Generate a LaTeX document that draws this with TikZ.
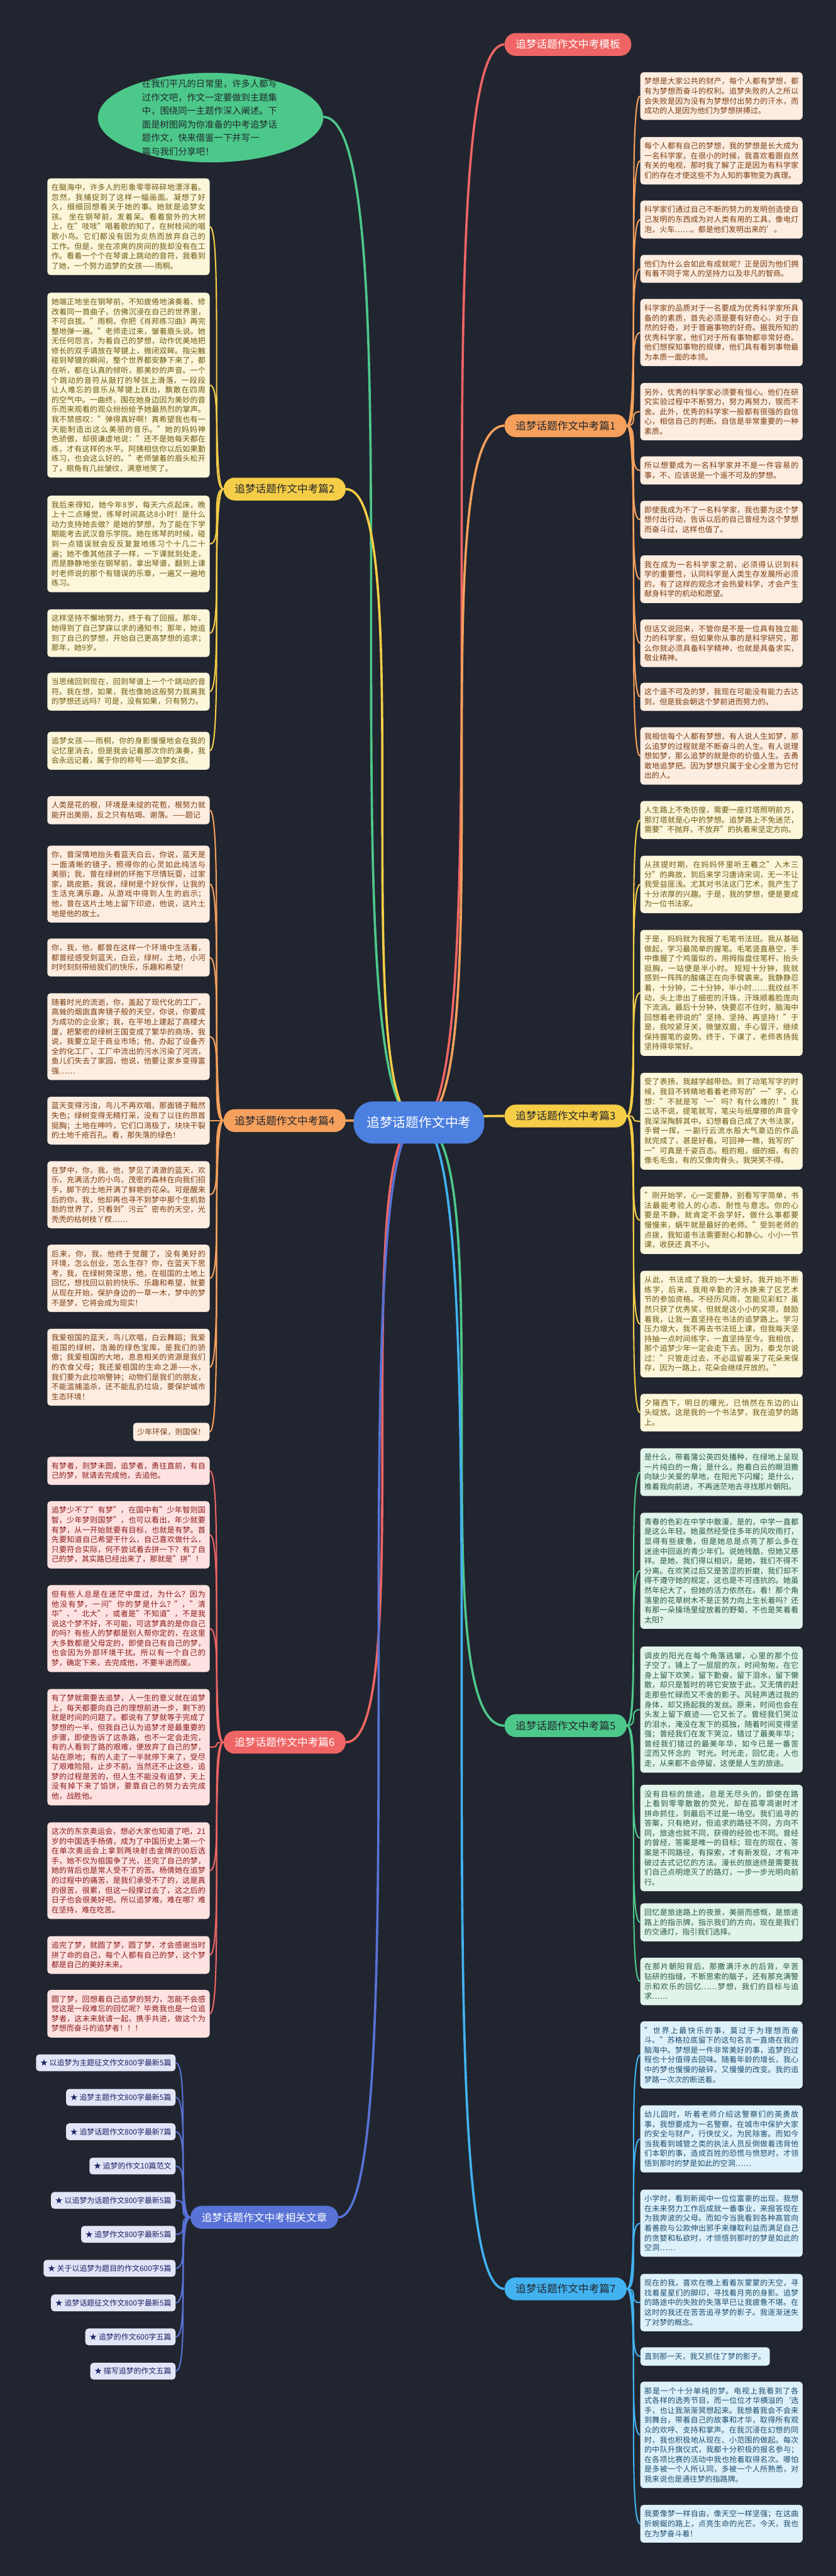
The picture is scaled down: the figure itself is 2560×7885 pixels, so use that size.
\documentclass[tikz,border=0pt]{standalone}
\usepackage{fontspec}
\setmainfont{Noto Sans CJK SC}
\XeTeXlinebreaklocale "zh"
\XeTeXlinebreakskip = 0pt plus 1pt
\usetikzlibrary{backgrounds}
\definecolor{bgc}{HTML}{21252F}
\definecolor{rootc}{HTML}{4B7FE0}
\definecolor{introtext}{HTML}{1E2A2A}
\definecolor{yelline}{HTML}{F5CD47}
\definecolor{yelfill}{HTML}{FCF6DA}
\definecolor{yeltext}{HTML}{6E5A14}
\definecolor{oraline}{HTML}{F5A05C}
\definecolor{orafill}{HTML}{FDEDE1}
\definecolor{oratext}{HTML}{7A3E12}
\definecolor{grnline}{HTML}{4DC88B}
\definecolor{grnfill}{HTML}{E1F4EA}
\definecolor{grntext}{HTML}{285847}
\definecolor{redline}{HTML}{EF6565}
\definecolor{redfill}{HTML}{FDE2E1}
\definecolor{redtext}{HTML}{8A1C1C}
\definecolor{bluline}{HTML}{42B2F0}
\definecolor{blufill}{HTML}{DDF1FB}
\definecolor{blutext}{HTML}{1F4E6E}
\definecolor{relline}{HTML}{5872D6}
\definecolor{relfill}{HTML}{E2E5F6}
\definecolor{reltext}{HTML}{1A2366}
\definecolor{darktopic}{HTML}{23262E}

\begin{document}
\begin{tikzpicture}[x=0.5pt,y=-0.5pt,
    leaf/.style={rounded corners=5pt,inner xsep=6.25pt,inner ysep=8.5pt,
      text width=236pt,align=justify,font=\fontsize{11.6}{15}\selectfont},
    chip/.style={rounded corners=5pt,inner xsep=6.25pt,inner ysep=8.5pt,
      font=\fontsize{11.6}{15}\selectfont},
    yelbox/.style={leaf,fill=yelfill,text=yeltext},
    orabox/.style={leaf,fill=orafill,text=oratext},
    grnbox/.style={leaf,fill=grnfill,text=grntext},
    redbox/.style={leaf,fill=redfill,text=redtext},
    blubox/.style={leaf,fill=blufill,text=blutext},
    relbox/.style={rounded corners=5pt,inner xsep=6.5pt,inner ysep=7.5pt,
      fill=relfill,text=reltext,font=\fontsize{11.5}{13}\selectfont},
    topic/.style={rounded corners=17pt,inner xsep=17pt,inner ysep=10pt,
      font=\fontsize{16}{18}\selectfont},
    wave/.style={to path={.. controls (\tikztostart -| \tikztotarget)
      and (\tikztotarget -| \tikztostart) .. (\tikztotarget)}},
    twig/.style={wave,line width=2pt},
    bough/.style={wave,line width=3.5pt}
  ]
  \useasboundingbox (0,0) rectangle (2560,7885);
  % root and intro bubble
  \node[rounded corners=30pt,fill=rootc,text=white,inner xsep=20pt,
    inner ysep=23pt,font=\fontsize{20}{22}\selectfont] (root) at (1283,3436)
    {追梦话题作文中考};
  \node[font=\fontsize{13.8}{20.8}\selectfont,text=introtext,text width=210pt,
    align=left,inner sep=0pt] (intro) at (645,360)
    {在我们平凡的日常里，许多人都写\\过作文吧，作文一定要做到主题集\\中，围绕同一主题作深入阐述。下\\面是树图网为你准备的中考追梦话\\题作文，快来借鉴一下并写一\\篇与我们分享吧！};
  \coordinate (introE) at (990,358);
  % topics on the right
  \node[topic,fill=redline,text=white,anchor=west] (tpl) at (1545,136) {追梦话题作文中考模板};
  \node[topic,fill=oraline,text=darktopic,anchor=west] (p1) at (1545,1303) {追梦话题作文中考篇1};
  \node[topic,fill=yelline,text=darktopic,anchor=west] (p3) at (1545,3416) {追梦话题作文中考篇3};
  \node[topic,fill=grnline,text=darktopic,anchor=west] (p5) at (1545,5282) {追梦话题作文中考篇5};
  \node[topic,fill=bluline,text=darktopic,anchor=west] (p7) at (1545,7006) {追梦话题作文中考篇7};
  % topics on the left
  \node[topic,fill=yelline,text=darktopic,anchor=east] (p2) at (1059,1497) {追梦话题作文中考篇2};
  \node[topic,fill=oraline,text=darktopic,anchor=east] (p4) at (1059,3430) {追梦话题作文中考篇4};
  \node[topic,fill=redline,text=white,anchor=east] (p6) at (1059,5333) {追梦话题作文中考篇6};
  \node[topic,fill=relline,text=white,anchor=east] (rel) at (1036,6787) {追梦话题作文中考相关文章};

  % part 1
  \node[orabox] (s1a) at (2209.5,294) {梦想是大家公共的财产，每个人都有梦想，都有为梦想而奋斗的权利。追梦失败的人之所以会失败是因为没有为梦想付出努力的汗水，而成功的人是因为他们为梦想拼搏过。};
  \node[orabox] (s1b) at (2209.5,492) {每个人都有自己的梦想，我的梦想是长大成为一名科学家，在很小的时候，我喜欢看跟自然有关的电视，那时我了解了正是因为有科学家们的存在才使这些不为人知的事物变为真理。};
  \node[orabox] (s1c) at (2209.5,672) {科学家们通过自己不断的努力的发明创造使自己发明的东西成为对人类有用的工具，像电灯泡，火车……。都是他们发明出来的'。};
  \node[orabox] (s1d) at (2209.5,823) {他们为什么会如此有成就呢？正是因为他们拥有着不同于常人的坚持力以及非凡的智商。};
  \node[orabox] (s1e) at (2209.5,1018) {科学家的品质对于一名要成为优秀科学家所具备的的素质，首先必须是要有好奇心，对于自然的好奇，对于普遍事物的好奇。据我所知的优秀科学家，他们对于所有事物都非常好奇。他们想探知事物的规律，他们具有看到事物最为本质一面的本领。};
  \node[orabox] (s1f) at (2209.5,1260) {另外，优秀的科学家必须要有恒心。他们在研究实验过程中不断努力，努力再努力，锲而不舍。此外，优秀的科学家一般都有很强的自信心，相信自己的判断。自信是非常重要的一种素质。};
  \node[orabox] (s1g) at (2209.5,1440) {所以想要成为一名科学家并不是一件容易的事，不，应该说是一个遥不可及的梦想。};
  \node[orabox] (s1h) at (2209.5,1591) {即使我成为不了一名科学家，我也要为这个梦想付出行动，告诉以后的自己曾经为这个梦想而奋斗过，这样也值了。};
  \node[orabox] (s1i) at (2209.5,1773) {我在成为一名科学家之前，必须得认识到科学的重要性，认同科学是人类生存发展所必须的，有了这样的观念才会热爱科学，才会产生献身科学的机动和愿望。};
  \node[orabox] (s1j) at (2209.5,1969) {但话又说回来，不管你是不是一位具有独立能力的科学家，但如果你从事的是科学研究，那么你就必须具备科学精神，也就是具备求实，敬业精神。};
  \node[orabox] (s1k) at (2209.5,2133) {这个遥不可及的梦，我现在可能没有能力去达到，但是我会朝这个梦前进而努力的。};
  \node[orabox] (s1l) at (2209.5,2314) {我相信每个人都有梦想，有人说人生如梦，那么追梦的过程就是不断奋斗的人生。有人说理想如梦，那么追梦的就是你的价值人生。去勇敢地追梦把。因为梦想只属于全心全意为它付出的人。};

  % part 3
  \node[yelbox] (s3a) at (2209.5,2510) {人生路上不免彷徨，需要一座灯塔照明前方，那灯塔就是心中的梦想。追梦路上不免迷茫，需要"不抛弃，不放弃"的执着来坚定方向。};
  \node[yelbox] (s3b) at (2209.5,2707) {从孩提时期，在妈妈怀里听王羲之"入木三分"的典故，到后来学习唐诗宋词，无一不让我受益匪浅。尤其对书法这门艺术，我产生了十分浓厚的兴趣。于是，我的梦想，便是要成为一位书法家。};
  \node[yelbox] (s3c) at (2209.5,3039) {于是，妈妈就为我报了毛笔书法班。我从基础做起，学习最简单的握笔。毛笔竖直悬空，手中像握了个鸡蛋似的，用拇指盘住笔杆，抬头挺胸，一站便是半小时。 短短十分钟，我就感到一阵阵的酸痛正在向手臂袭来。我静静忍着，十分钟，二十分钟，半小时……我纹丝不动，头上渗出了细密的汗珠，汗珠顺着脸庞向下流淌。最后十分钟，快要忍不住时，脑海中回想着老师说的"坚持、坚持、再坚持！"于是，我咬紧牙关，微皱双眉，手心冒汗，继续保持握笔的姿势。终于，下课了，老师表扬我坚持得非常好。};
  \node[yelbox] (s3d) at (2209.5,3432) {受了表扬，我越学越带劲。到了动笔写字的时候，我目不转睛地看着老师写的"一"字，心想："不就是写‘一’吗？有什么难的！"我二话不说，提笔就写，笔尖与纸摩擦的声音令我深深陶醉其中。幻想着自己成了大书法家，手臂一挥，一副行云流水般大气豪迈的作品就完成了，甚是好看。可回神一瞧，我写的"一"可真是千姿百态。粗的粗，细的细，有的像毛毛虫，有的又像肉骨头，我哭笑不得。};
  \node[yelbox] (s3e) at (2209.5,3735) {"刚开始学，心一定要静，别看写字简单，书法最能考验人的心态、耐性与意志。你的心要是不静，就肯定不会学好，做什么事都要慢慢来，蜗牛就是最好的老师。"受到老师的点拨，我知道书法需要耐心和静心。小小一节课，收获还 真不小。};
  \node[yelbox] (s3f) at (2209.5,4053) {从此，书法成了我的一大爱好。我开始不断练字，后来，我用辛勤的汗水换来了区艺术节的参加资格。不经历风雨，怎能见彩虹？虽然只获了优秀奖，但就是这小小的奖项，鼓励着我，让我一直坚持在书法的追梦路上。学习压力增大，我不再去书法班上课，但我每天坚持抽一点时间练字，一直坚持至今。我相信，那个追梦少年一定会走下去。因为，泰戈尔说过："只管走过去，不必逗留着采了花朵来保存，因为一路上，花朵会继续开放的。"};
  \node[yelbox] (s3g) at (2209.5,4324) {夕陽西下，明日的曙光，已悄然在东边的山头绽放。这是我的一个书法梦，我在追梦的路上。};

  % part 5
  \node[grnbox] (s5a) at (2209.5,4506) {是什么，带着蒲公英四处播种，在绿地上呈现一片纯白的一角；是什么，抱着白云的眼泪撒向缺少关爱的旱地，在阳光下闪耀；是什么，推着我向前进，不再迷茫地去寻找那片朝阳。};
  \node[grnbox] (s5b) at (2209.5,4808) {青春的色彩在中学中散漫，是的，中学一直都是这么年轻。她虽然经受住多年的风吹雨打，显得有些疲惫，但是她总是点亮了那么多在迷途中回返的青少年们。说她残酷，但她又慈祥。是她，我们得以相识，是她，我们不得不分离。在欢笑过后又是苦涩的折磨，我们却不得不遵守她的规定，这也是不可违抗的。她虽然年纪大了，但她的活力依然在。看！那个角落里的花草树木不是正努力向上生长着吗？还有那一朵操场里绽放着的野菊，不也是笑着看太阳？};
  \node[grnbox] (s5c) at (2209.5,5233) {调皮的阳光在每个角落逃窜，心里的那个位子空了，铺上了一层层的灰，时间匆匆，在它身上留下欢笑，留下勤奋，留下泪水，留下懒散，却只是暂时的将它安放于此，又无情的赶走那些忙碌而又不舍的影子。风轻声透过我的身体，却又扬起我的发丝。原来，时间也会在头发上留下痕迹——它又长了。曾经我们哭泣的泪水，淹没在发下的孤独，随着时间变得坚强；曾经我们在发下哭泣，错过了最美年华；曾经我们错过的最美年华，如今已是一番苦涩而又怀念的‘时光。时光走，回忆走，人也走，从来都不会停留，这便是人生的旅途。};
  \node[grnbox] (s5d) at (2209.5,5626) {没有目标的旅途，总是无尽头的，即使在路上看到零零散散的荧光，却在孤零凋谢时才拼命抓住，到最后不过是一场空。我们追寻的答案，只有绝对，但追求的路径不同，方向不同，旅途也就不同，获得的经验也不同。曾经的曾经，答案是唯一的目标；现在的现在，答案是不同路径，有探索，才有新发现，才有冲破过去式记忆的方法。漫长的旅途终是需要我们自己点明熄灭了的路灯，一步一步光明向前行。};
  \node[grnbox] (s5e) at (2209.5,5884) {回忆是旅途路上的夜景，美丽而感慨，是旅途路上的指示牌，指示我们的方向，现在是我们的交通灯，指引我们选择。};
  \node[grnbox] (s5f) at (2209.5,6065) {在那片朝阳背后，那撒满汗水的后背，辛苦钻研的指缝，不断思索的脑子，还有那充满警示和欢乐的回忆……梦想，我们的目标与追求……};

  % part 7
  \node[blubox] (s7a) at (2209.5,6290) {"世界上最快乐的事，莫过于为理想而奋斗。"苏格拉底留下的这句名言一直烙在我的脑海中。梦想是一件非常美好的事，追梦的过程也十分值得去回味。随着年龄的增长，我心中的梦也慢慢的破碎，又慢慢的改变。我的追梦路一次次的断送着。};
  \node[blubox] (s7b) at (2209.5,6547) {幼儿园时，听着老师介绍这警察们的英勇故事，我想要成为一名警察，在城市中保护大家的安全与财产，行侠仗义，为民除害。而如今当我看到城管之类的执法人员反倒做着违背他们本职的事，造成百姓的恐慌与愤怒时，才领悟到那时的梦是如此的空洞……};
  \node[blubox] (s7c) at (2209.5,6805) {小学时，看到新闻中一位位富豪的出现，我想在未来努力工作后成就一番事业，来报答现在为我奔波的父母。而如今当我看到各种高官向着善款与公款伸出邪手来赚取利益而满足自己的贪婪和私欲时，才领悟到那时的梦是如此的空洞……};
  \node[blubox] (s7d) at (2209.5,7048) {现在的我，喜欢在晚上看着灰蒙蒙的天空，寻找着星星们的脚印，寻找着月亮的身影。追梦的路途中的失败的失落早已让我疲惫不堪。在这时的我还在苦苦追寻梦的影子。我逐渐迷失了对梦的概念。};
  \node[chip,fill=blufill,text=blutext,anchor=west] (s7e) at (1961,7213) {直到那一天，我又抓住了梦的影子。};
  \node[blubox] (s7f) at (2209.5,7453) {那是一个十分单纯的梦。电视上我看到了各式各样的选秀节目，而一位位才华横溢的‘选手，也让我渐渐冥想起来。我想着我会不会来到舞台，带着自己的故事和才华，取得所有观众的欢呼、支持和掌声。在我沉浸在幻想的同时，我也积极地从现在、小范围的做起。每次的中队升旗仪式，我都十分积极的报名参与；在各项比赛的活动中我也抢着取得名次。哪怕是多被一个人所认同，多被一个人所熟悉，对我来说也是通往梦的指路牌。};
  \node[blubox] (s7g) at (2209.5,7725) {我要像梦一样自由，像天空一样坚强；在这曲折蜿蜒的路上，点亮生命的光芒。今天，我也在为梦奋斗着！};

  % part 2
  \node[yelbox] (s2a) at (393.5,694) {在脑海中，许多人的形象零零碎碎地漂浮着。忽然，我捕捉到了这样一幅画面。凝想了好久，细细回想着关于她的事。她就是追梦女孩。 坐在钢琴前，发着呆。看着窗外的大树上，在"吱吱"唱着歌的知了，在树枝间的唱歌小鸟。它们都没有因为炎热而放弃自己的工作。但是，坐在凉爽的房间的我却没有在工作。看着一个个在琴谱上跳动的音符，我看到了她，一个努力追梦的女孩——雨桐。};
  \node[yelbox] (s2b) at (393.5,1179) {她端正地坐在钢琴前，不知疲倦地演奏着、修改着同一首曲子，仿佛沉浸在自己的世界里，不可自拔。"雨桐，你把《肖邦练习曲》再完整地弹一遍。"老师走过来，皱着眉头说。她无任何怨言，为着自己的梦想，动作优美地把修长的双手请放在琴键上，微闭双眸。指尖触碰到琴键的瞬间，整个世界都安静下来了，都在听，都在认真的倾听，那美妙的声音。一个个跳动的音符从敲打的琴弦上滑落，一段段让人难忘的音乐从琴键上跃出，飘散在四周的空气中。一曲终，围在她身边因为美妙的音乐而来观看的观众纷纷给予她最热烈的掌声。我不禁感叹："弹得真好啊！真希望我也有一天能制造出这么美丽的音乐。"她的妈妈神色骄傲，却很谦虚地说："还不是她每天都在练，才有这样的水平。阿姨相信你以后如果勤练习，也会这么好的。"老师皱着的眉头松开了，眼角有几丝皱纹，满意地笑了。};
  \node[yelbox] (s2c) at (393.5,1665) {我后来得知，她今年8岁，每天六点起床，晚上十二点睡觉，练琴时间高达8小时！是什么动力支持她去做？是她的梦想，为了能在下学期能考去武汉音乐学院。她在练琴的时候，碰到一点错误就会反反复复地练习个十几二十遍；她不像其他孩子一样，一下课就到处走，而是静静地坐在钢琴前，拿出琴谱，翻到上课时老师说的那个有错误的乐章，一遍又一遍地练习。};
  \node[yelbox] (s2d) at (393.5,1938) {这样坚持不懈地努力，终于有了回报。那年，她得到了自己梦寐以求的通知书；那年，她追到了自己的梦想，开始自己更高梦想的追求；那年，她9岁。};
  \node[yelbox] (s2e) at (393.5,2117) {当思绪回到现在，回到琴谱上一个个跳动的音符。我在想，如果，我也像她这般努力我离我的梦想还远吗？可是，没有如果，只有努力。};
  \node[yelbox] (s2f) at (393.5,2298) {追梦女孩——雨桐，你的身影慢慢地会在我的记忆里消去，但是我会记着那次你的演奏，我会永远记着，属于你的称号——追梦女孩。};

  % part 4
  \node[orabox] (s4a) at (393.5,2480) {人类是花的根，环境是未绽的花苞，根努力就能开出美丽，反之只有枯竭、谢落。——题记};
  \node[orabox] (s4b) at (393.5,2706) {你，曾深情地抬头看蓝天白云，你说，蓝天是一面清晰的镜子，照得你的心灵如此纯洁与美丽；我，曾在绿树的环抱下尽情玩耍，过家家，跳皮筋，我说，绿树是个好伙伴，让我的生活充满乐趣，从游戏中得到人生的启示；他，曾在这片土地上留下印迹，他说，这片土地是他的故土。};
  \node[orabox] (s4c) at (393.5,2931) {你，我，他，都曾在这样一个环境中生活着，都曾经感受到蓝天，白云，绿树，土地，小河时时刻刻带给我们的快乐，乐趣和希望！};
  \node[orabox] (s4d) at (393.5,3173) {随着时光的流逝，你，盖起了现代化的工厂，高耸的烟囱直奔镜子般的天空，你说，你要成为成功的企业家；我，在平地上建起了高楼大厦，把繁密的绿树王国变成了繁华的商场，我说，我要立足于商业市场；他，办起了设备齐全的化工厂，工厂中流出的污水污染了河流，鱼儿们失去了家园，他说，他要让家乡变得富强……};
  \node[orabox] (s4e) at (393.5,3430) {蓝天变得污浊，鸟儿不再欢唱，那面镜子黯然失色；绿树变得无精打采，没有了以往的昂首挺胸；土地在呻吟，它们口渴极了，块块干裂的土地千疮百孔。看，那失落的绿色！};
  \node[orabox] (s4f) at (393.5,3657) {在梦中，你，我，他，梦见了清澈的蓝天，欢乐，充满活力的小鸟，茂密的森林在向我们招手，脚下的土地开满了鲜艳的花朵。可是醒来后的你，我，他却再也寻不到梦中那个生机勃勃的世界了，只看到"污云"密布的天空，光秃秃的枯树枝丫杈……};
  \node[orabox] (s4g) at (393.5,3913) {后来，你，我，他终于觉醒了，没有美好的环境，怎么创业，怎么生存？你，在蓝天下思考，我，在绿树旁深思，他，在祖国的土地上回忆，想找回以前的快乐、乐趣和希望，就要从现在开始，保护身边的一草一木，梦中的梦不是梦，它将会成为现实！};
  \node[orabox] (s4h) at (393.5,4185) {我爱祖国的蓝天，鸟儿欢唱，白云舞蹈；我爱祖国的绿树，浩瀚的绿色宝库，是我们的骄傲；我爱祖国的大地，息息相关的资源是我们的衣食父母；我还爱祖国的生命之源——水，我们要为此拉响警钟；动物们是我们的朋友，不能滥捕滥杀，还不能乱扔垃圾，要保护城市生态环境！};
  \node[chip,fill=orafill,text=oratext,anchor=east] (s4i) at (642,4383) {少年环保，则国保！};

  % part 6
  \node[redbox] (s6a) at (393.5,4502) {有梦者，则梦未圆，追梦者，勇往直前，有自己的梦，就请去完成他，去追他。};
  \node[redbox] (s6b) at (393.5,4698) {追梦少不了"有梦"，在国中有"少年智则国智，少年梦则国梦"，也可以看出，年少就要有梦，从一开始就要有目标，也就是有梦。首先要知道自己希望干什么，自己喜欢做什么，只要符合实际，何不尝试着去拼一下？有了自己的梦，其实路已经出来了，那就是"拼"！};
  \node[redbox] (s6c) at (393.5,4985) {但有些人总是在迷茫中度过，为什么？因为他没有梦，一问"你的梦是什么？"，"清华"、"北大"，或者是"不知道"，不是我说这个梦不好，不可能，可这梦真的是你自己的吗？有些人的梦都是别人帮你定的，在这里大多数都是父母定的，即使自己有自己的梦，也会因为外部环境干扰。所以有一个自己的梦，确定下来，去完成他，不要半途而废。};
  \node[redbox] (s6d) at (393.5,5348) {有了梦就需要去追梦，人一生的意义就在追梦上，每天都要向自己的理想前进一步，剩下的就是时间的问题了。都说有了梦就等于完成了梦想的一半，但我自己认为追梦才是最重要的步骤，即使告诉了这条路，也不一定会走完，有的人看到了路的艰难，便放弃了自己的梦，站在原地；有的人走了一半就停下来了，受尽了艰难险阻，止步不前。当然还不止这些，追梦的过程是苦的，但人生不能没有追梦，天上没有掉下来了馅饼，要靠自己的努力去完成他，战胜他。};
  \node[redbox] (s6e) at (393.5,5726) {这次的东京奥运会，想必大家也知道了吧，21岁的中国选手杨倩，成为了中国历史上第一个在单次奥运会上拿到两块射击金牌的00后选手，她不仅为祖国争了光，还完了自己的梦，她的背后也是常人受不了的苦。杨倩她在追梦的过程中的痛苦，是我们承受不了的，这是真的很苦，很累，但这一段撑过去了，这之后的日子也会很美好吧。所以追梦难，难在哪？难在坚持，难在吃苦。};
  \node[redbox] (s6f) at (393.5,5984) {追完了梦，就圆了梦，圆了梦，才会感谢当时拼了命的自己，每个人都有自己的梦，这个梦都是自己的美好未来。};
  \node[redbox] (s6g) at (393.5,6164) {圆了梦，回想着自己追梦的努力，怎能不会感觉这是一段难忘的回忆呢？毕竟我也是一位追梦者，这未来就请一起，携手共进，做这个为梦想而奋斗的追梦者！！！};

  % related articles
  \node[relbox,anchor=east] (r1) at (538,6314) {★ 以追梦为主题征文作文800字最新5篇};
  \node[relbox,anchor=east] (r2) at (538,6420) {★ 追梦主题作文800字最新5篇};
  \node[relbox,anchor=east] (r3) at (538,6525) {★ 追梦话题作文800字最新7篇};
  \node[relbox,anchor=east] (r4) at (538,6630) {★ 追梦的作文10篇范文};
  \node[relbox,anchor=east] (r5) at (538,6735) {★ 以追梦为话题作文800字最新5篇};
  \node[relbox,anchor=east] (r6) at (538,6839) {★ 追梦作文800字最新5篇};
  \node[relbox,anchor=east] (r7) at (538,6943) {★ 关于以追梦为题目的作文600字5篇};
  \node[relbox,anchor=east] (r8) at (538,7049) {★ 追梦话题征文作文800字最新5篇};
  \node[relbox,anchor=east] (r9) at (538,7153) {★ 追梦的作文600字五篇};
  \node[relbox,anchor=east] (r10) at (538,7258) {★ 描写追梦的作文五篇};

  \begin{scope}[on background layer]
    \fill[bgc] (0,0) rectangle (2560,7885);
    \fill[grnline] (intro.center) ellipse [x radius=172.5pt,y radius=68.5pt];
    % main branches
    \draw[bough,draw=grnline] (root.center) to (introE);
    \draw[bough,draw=redline] (root.center) to (tpl.west);
    \draw[bough,draw=oraline] (root.center) to (p1.west);
    \draw[bough,draw=yelline] (root.center) to (p3.west);
    \draw[bough,draw=grnline] (root.center) to (p5.west);
    \draw[bough,draw=bluline] (root.center) to (p7.west);
    \draw[bough,draw=yelline] (root.center) to (p2.east);
    \draw[bough,draw=oraline] (root.center) to (p4.east);
    \draw[bough,draw=redline] (root.center) to (p6.east);
    \draw[bough,draw=relline] (root.center) to (rel.east);
    % leaves, right side
    \draw[twig,draw=oraline] (p1.east) to (s1a.west);
    \draw[twig,draw=oraline] (p1.east) to (s1b.west);
    \draw[twig,draw=oraline] (p1.east) to (s1c.west);
    \draw[twig,draw=oraline] (p1.east) to (s1d.west);
    \draw[twig,draw=oraline] (p1.east) to (s1e.west);
    \draw[twig,draw=oraline] (p1.east) to (s1f.west);
    \draw[twig,draw=oraline] (p1.east) to (s1g.west);
    \draw[twig,draw=oraline] (p1.east) to (s1h.west);
    \draw[twig,draw=oraline] (p1.east) to (s1i.west);
    \draw[twig,draw=oraline] (p1.east) to (s1j.west);
    \draw[twig,draw=oraline] (p1.east) to (s1k.west);
    \draw[twig,draw=oraline] (p1.east) to (s1l.west);
    \draw[twig,draw=yelline] (p3.east) to (s3a.west);
    \draw[twig,draw=yelline] (p3.east) to (s3b.west);
    \draw[twig,draw=yelline] (p3.east) to (s3c.west);
    \draw[twig,draw=yelline] (p3.east) to (s3d.west);
    \draw[twig,draw=yelline] (p3.east) to (s3e.west);
    \draw[twig,draw=yelline] (p3.east) to (s3f.west);
    \draw[twig,draw=yelline] (p3.east) to (s3g.west);
    \draw[twig,draw=grnline] (p5.east) to (s5a.west);
    \draw[twig,draw=grnline] (p5.east) to (s5b.west);
    \draw[twig,draw=grnline] (p5.east) to (s5c.west);
    \draw[twig,draw=grnline] (p5.east) to (s5d.west);
    \draw[twig,draw=grnline] (p5.east) to (s5e.west);
    \draw[twig,draw=grnline] (p5.east) to (s5f.west);
    \draw[twig,draw=bluline] (p7.east) to (s7a.west);
    \draw[twig,draw=bluline] (p7.east) to (s7b.west);
    \draw[twig,draw=bluline] (p7.east) to (s7c.west);
    \draw[twig,draw=bluline] (p7.east) to (s7d.west);
    \draw[twig,draw=bluline] (p7.east) to (s7e.west);
    \draw[twig,draw=bluline] (p7.east) to (s7f.west);
    \draw[twig,draw=bluline] (p7.east) to (s7g.west);
    % leaves, left side
    \draw[twig,draw=yelline] (p2.west) to (s2a.east);
    \draw[twig,draw=yelline] (p2.west) to (s2b.east);
    \draw[twig,draw=yelline] (p2.west) to (s2c.east);
    \draw[twig,draw=yelline] (p2.west) to (s2d.east);
    \draw[twig,draw=yelline] (p2.west) to (s2e.east);
    \draw[twig,draw=yelline] (p2.west) to (s2f.east);
    \draw[twig,draw=oraline] (p4.west) to (s4a.east);
    \draw[twig,draw=oraline] (p4.west) to (s4b.east);
    \draw[twig,draw=oraline] (p4.west) to (s4c.east);
    \draw[twig,draw=oraline] (p4.west) to (s4d.east);
    \draw[twig,draw=oraline] (p4.west) to (s4e.east);
    \draw[twig,draw=oraline] (p4.west) to (s4f.east);
    \draw[twig,draw=oraline] (p4.west) to (s4g.east);
    \draw[twig,draw=oraline] (p4.west) to (s4h.east);
    \draw[twig,draw=oraline] (p4.west) to (s4i.east);
    \draw[twig,draw=redline] (p6.west) to (s6a.east);
    \draw[twig,draw=redline] (p6.west) to (s6b.east);
    \draw[twig,draw=redline] (p6.west) to (s6c.east);
    \draw[twig,draw=redline] (p6.west) to (s6d.east);
    \draw[twig,draw=redline] (p6.west) to (s6e.east);
    \draw[twig,draw=redline] (p6.west) to (s6f.east);
    \draw[twig,draw=redline] (p6.west) to (s6g.east);
    \draw[twig,draw=relline] (rel.west) to (r1.east);
    \draw[twig,draw=relline] (rel.west) to (r2.east);
    \draw[twig,draw=relline] (rel.west) to (r3.east);
    \draw[twig,draw=relline] (rel.west) to (r4.east);
    \draw[twig,draw=relline] (rel.west) to (r5.east);
    \draw[twig,draw=relline] (rel.west) to (r6.east);
    \draw[twig,draw=relline] (rel.west) to (r7.east);
    \draw[twig,draw=relline] (rel.west) to (r8.east);
    \draw[twig,draw=relline] (rel.west) to (r9.east);
    \draw[twig,draw=relline] (rel.west) to (r10.east);
  \end{scope}
\end{tikzpicture}
\end{document}
